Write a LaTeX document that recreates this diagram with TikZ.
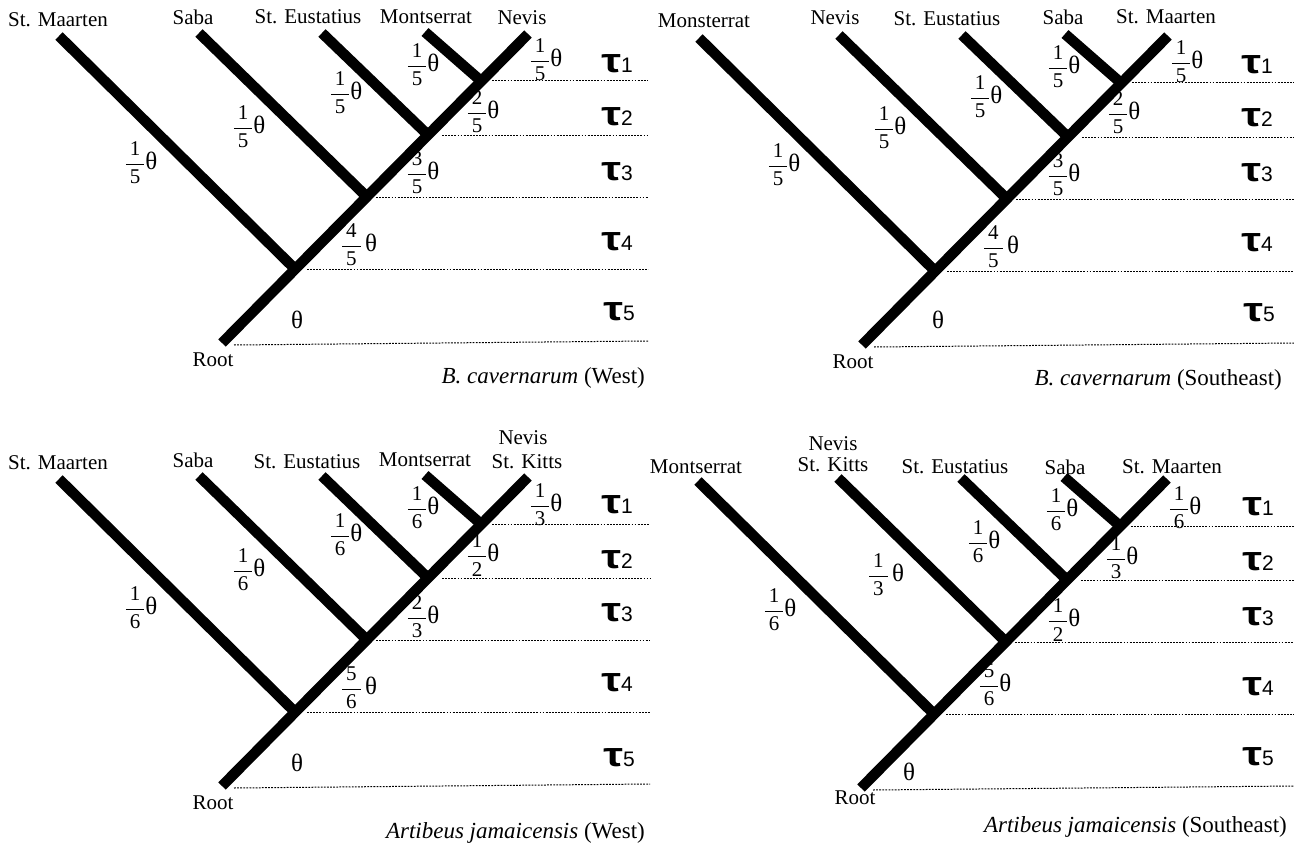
\documentclass[tikz,border=0pt]{standalone}
\usepackage{amsmath}
\usepackage{graphicx}
\usepackage{fontspec}
\setmainfont{Liberation Serif}
\setsansfont{Liberation Sans}
\newcommand{\fr}[2]{\ensuremath{\genfrac{}{}{0.8pt}{0}{\mbox{\hspace{4pt}#1\hspace{4pt}}}{\mbox{\hspace{4pt}#2\hspace{4pt}}}}}
\newcommand{\thet}{{\fontsize{25}{25}\selectfont θ}}
\newcommand{\taulab}[1]{{\sffamily\bfseries\fontsize{34}{34}\selectfont\scalebox{1.3}[1]{τ}}{\sffamily\fontsize{21}{21}\selectfont #1}}
\tikzset{
  branch/.style={line width=10.5pt, line cap=butt},
  dotline/.style={line width=1pt, dash pattern=on 1.8pt off 1.3pt},
  tip/.style={font=\fontsize{21}{22}\selectfont, inner sep=0pt},
  blab/.style={font=\fontsize{21}{22}\selectfont, inner sep=0pt},
  captext/.style={font=\fontsize{23}{24}\selectfont, inner sep=0pt, anchor=east},
  taul/.style={inner sep=0pt}
}
% tree geometry shared by all four panels
\newcommand{\drawtree}[2]{%
  \coordinate (#1R) at (222,343);
  \coordinate (#1T) at (528,34);
  \coordinate (#1A) at (295,269);
  \coordinate (#1B) at (367,197);
  \coordinate (#1C) at (428,135);
  \coordinate (#1D) at (481,81);
  \coordinate (#1t1) at (59,36);
  \coordinate (#1t2) at (199,33);
  \coordinate (#1t3) at (322,33);
  \coordinate (#1t4) at (425,32);
  \coordinate (#1E) at (#2,341);
  \draw[branch] (#1R) -- (#1T);
  \draw[branch] (#1A) -- (#1t1);
  \draw[branch] (#1B) -- (#1t2);
  \draw[branch] (#1C) -- (#1t3);
  \draw[branch] (#1D) -- (#1t4);
  \draw[dotline] ([xshift=11pt]#1D) -- (#1D -| #1E);
  \draw[dotline] ([xshift=14pt]#1C) -- (#1C -| #1E);
  \draw[dotline] ([xshift=9pt]#1B) -- (#1B -| #1E);
  \draw[dotline] ([xshift=12pt]#1A) -- (#1A -| #1E);
  \draw[dotline] ([xshift=12pt,yshift=-2pt]#1R) -- (#1E);
}
\begin{document}
\begin{tikzpicture}[x=1pt,y=-1pt]
\useasboundingbox (0,0) rectangle (1294,843);

% ---------------- Panel 1 ----------------
\begin{scope}
\drawtree{a}{648}
\node[tip] (a1) at (58,20) {St. Maarten};
\node[tip] (a2) at (193,17) {Saba};
\node[tip] (a3) at (308,17) {St. Eustatius};
\node[tip] (a4) at (426,17) {Montserrat};
\node[tip] (a5) at (522,18) {Nevis};
\node[blab] (al1) at (141,163) {\fr{1}{5}\thet};
\node[blab] (al2) at (249,127) {\fr{1}{5}\thet};
\node[blab] (al3) at (346,93) {\fr{1}{5}\thet};
\node[blab] (al4) at (423,65) {\fr{1}{5}\thet};
\node[blab] (al5) at (546,60) {\fr{1}{5}\thet};
\node[blab] (al6) at (483,112) {\fr{2}{5}\thet};
\node[blab] (al7) at (423,173) {\fr{3}{5}\thet};
\node[blab] (al8) at (359,245) {\fr{4}{5}\,\thet};
\node[blab] (al9) at (297,320) {\thet};
\node[tip] (aroot) at (213,360) {Root};
\node[captext] (acap) at (645,378) {\textit{B. cavernarum} (West)};
\node[taul] (atau1) at (617,64) {\taulab{1}};
\node[taul] (atau2) at (617,117) {\taulab{2}};
\node[taul] (atau3) at (617,172) {\taulab{3}};
\node[taul] (atau4) at (617,242) {\taulab{4}};
\node[taul] (atau5) at (619,312) {\taulab{5}};
\end{scope}

% ---------------- Panel 2 ----------------
\begin{scope}[shift={(640,2)}]
\drawtree{b}{654}
\node[tip] (b1) at (64,19) {Monsterrat};
\node[tip] (b2) at (195,16) {Nevis};
\node[tip] (b3) at (307,17) {St. Eustatius};
\node[tip] (b4) at (423,15) {Saba};
\node[tip] (b5) at (526,15) {St. Maarten};
\node[blab] (bl1) at (144,163) {\fr{1}{5}\thet};
\node[blab] (bl2) at (250,126) {\fr{1}{5}\thet};
\node[blab] (bl3) at (346,95) {\fr{1}{5}\thet};
\node[blab] (bl4) at (424,65) {\fr{1}{5}\thet};
\node[blab] (bl5) at (547,60) {\fr{1}{5}\thet};
\node[blab] (bl6) at (484,111) {\fr{2}{5}\thet};
\node[blab] (bl7) at (424,173) {\fr{3}{5}\thet};
\node[blab] (bl8) at (361,245) {\fr{4}{5}\,\thet};
\node[blab] (bl9) at (298,318) {\thet};
\node[tip] (broot) at (213,360) {Root};
\node[captext] (bcap) at (642,378) {\textit{B. cavernarum} (Southeast)};
\node[taul] (btau1) at (617,63) {\taulab{1}};
\node[taul] (btau2) at (617,116) {\taulab{2}};
\node[taul] (btau3) at (617,171) {\taulab{3}};
\node[taul] (btau4) at (617,241) {\taulab{4}};
\node[taul] (btau5) at (619,311) {\taulab{5}};
\end{scope}

% ---------------- Panel 3 ----------------
\begin{scope}[shift={(0,443)}]
\drawtree{c}{650}
\node[tip] (c1) at (58,20) {St. Maarten};
\node[tip] (c2) at (193,17) {Saba};
\node[tip] (c3) at (307,19) {St. Eustatius};
\node[tip] (c4) at (425,17) {Montserrat};
\node[tip] (c5a) at (523,-5) {Nevis};
\node[tip] (c5b) at (527,19) {St. Kitts};
\node[blab] (cl1) at (141,165) {\fr{1}{6}\thet};
\node[blab] (cl2) at (249,127) {\fr{1}{6}\thet};
\node[blab] (cl3) at (346,92) {\fr{1}{6}\thet};
\node[blab] (cl4) at (423,65) {\fr{1}{6}\thet};
\node[blab] (cl5) at (546,62) {\fr{1}{3}\thet};
\node[blab] (cl6) at (483,112) {\fr{1}{2}\thet};
\node[blab] (cl7) at (423,174) {\fr{2}{3}\thet};
\node[blab] (cl8) at (359,245) {\fr{5}{6}\,\thet};
\node[blab] (cl9) at (297,320) {\thet};
\node[tip] (croot) at (213,360) {Root};
\node[captext] (ccap) at (645,390) {\textit{Artibeus jamaicensis} (West)};
\node[taul] (ctau1) at (617,62) {\taulab{1}};
\node[taul] (ctau2) at (617,117) {\taulab{2}};
\node[taul] (ctau3) at (617,170) {\taulab{3}};
\node[taul] (ctau4) at (617,240) {\taulab{4}};
\node[taul] (ctau5) at (619,315) {\taulab{5}};
\end{scope}

% ---------------- Panel 4 ----------------
\begin{scope}[shift={(639,445)}]
\drawtree{d}{655}
\node[tip] (d1) at (57,22) {Montserrat};
\node[tip] (d2a) at (194,-1) {Nevis};
\node[tip] (d2b) at (194,20) {St. Kitts};
\node[tip] (d3) at (316,22) {St. Eustatius};
\node[tip] (d4) at (426,22) {Saba};
\node[tip] (d5) at (533,22) {St. Maarten};
\node[blab] (dl1) at (141,165) {\fr{1}{6}\thet};
\node[blab] (dl2) at (247,130) {\fr{1}{3}\,\thet};
\node[blab] (dl3) at (345,97) {\fr{1}{6}\thet};
\node[blab] (dl4) at (423,65) {\fr{1}{6}\thet};
\node[blab] (dl5) at (546,63) {\fr{1}{6}\thet};
\node[blab] (dl6) at (483,113) {\fr{1}{3}\thet};
\node[blab] (dl7) at (425,175) {\fr{1}{2}\thet};
\node[blab] (dl8) at (356,240) {\fr{5}{6}\thet};
\node[blab] (dl9) at (270,327) {\thet};
\node[tip] (droot) at (216,353) {Root};
\node[captext] (dcap) at (648,382) {\textit{Artibeus jamaicensis} (Southeast)};
\node[taul] (dtau1) at (619,62) {\taulab{1}};
\node[taul] (dtau2) at (619,117) {\taulab{2}};
\node[taul] (dtau3) at (619,172) {\taulab{3}};
\node[taul] (dtau4) at (619,242) {\taulab{4}};
\node[taul] (dtau5) at (619,312) {\taulab{5}};
\end{scope}
\end{tikzpicture}
\end{document}
